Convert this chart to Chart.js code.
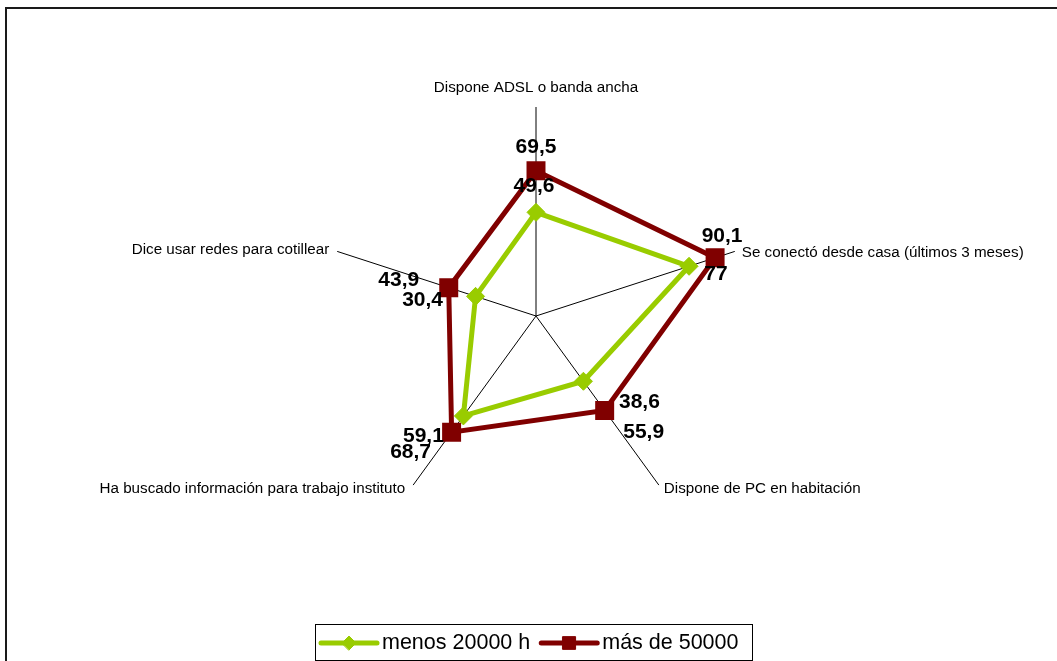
<!DOCTYPE html>
<html>
<head>
<meta charset="utf-8">
<script src="https://cdn.jsdelivr.net/npm/chart.js@4.4.1/dist/chart.umd.min.js"></script>
<style>
html, body { margin: 0; padding: 0; background: #fff; }
canvas { display: block; }
</style>
</head>
<body>
<canvas id="radarChart" width="1057" height="661"></canvas>
<script>
"use strict";

// datos
const categories = [
    'Dispone ADSL o banda ancha',
    'Se conectó desde casa (últimos 3 meses)',
    'Dispone de PC en habitación',
    'Ha buscado información para trabajo instituto',
    'Dice usar redes para cotillear'
];
const seriesNames = ['menos 20000 h', 'más de 50000'];
const menos20000 = [49.6, 77, 38.6, 59.1, 30.4];
const mas50000 = [69.5, 90.1, 55.9, 68.7, 43.9];
const scaleMin = 0;
const scaleMax = 100;

const FONT = '"Liberation Sans", Arial, sans-serif';

// posicion de las etiquetas de valor (desplazamiento desde el punto)
const valueLabelOffsets = [
    [[-2, -26], [27, 8], [56, 21], [-40, 20], [-53, 4]],
    [[0, -24], [7, -22], [39, 22], [-41, 20], [-50, -7]]
];

// posicion de las etiquetas de eje respecto al extremo del radio
const axisLabelPlacement = [
    { align: 'center', dx: 0, dy: -19 },
    { align: 'left', dx: 7, dy: 1 },
    { align: 'left', dx: 5, dy: 4 },
    { align: 'right', dx: -8, dy: 4 },
    { align: 'right', dx: -8, dy: -2 }
];

const fmt = (v) => String(v).replace('.', ',');

const framePlugin = {
    id: 'frame',
    beforeDraw(chart) {
        const ctx = chart.ctx;
        ctx.save();
        ctx.fillStyle = '#fff';
        ctx.fillRect(0, 0, chart.width, chart.height);
        ctx.fillStyle = '#1a1a1a';
        ctx.fillRect(5, 7, chart.width - 5, 2);
        ctx.fillRect(5, 7, 2, chart.height - 7);
        ctx.restore();
    }
};

const axisLabelsPlugin = {
    id: 'axisLabels',
    afterDraw(chart) {
        const ctx = chart.ctx;
        const scale = chart.scales.r;
        ctx.save();
        ctx.font = '15.2px ' + FONT;
        ctx.fillStyle = '#000';
        ctx.textBaseline = 'middle';
        categories.forEach((label, i) => {
            const p = scale.getPointPosition(i, scale.drawingArea);
            const pl = axisLabelPlacement[i];
            ctx.textAlign = pl.align;
            ctx.fillText(label, p.x + pl.dx, p.y + pl.dy);
        });
        ctx.restore();
    }
};

const valueLabelsPlugin = {
    id: 'valueLabels',
    afterDatasetsDraw(chart) {
        const ctx = chart.ctx;
        ctx.save();
        ctx.font = 'bold 21px ' + FONT;
        ctx.fillStyle = '#000';
        ctx.textAlign = 'center';
        ctx.textBaseline = 'middle';
        chart.data.datasets.forEach((ds, di) => {
            const meta = chart.getDatasetMeta(di);
            meta.data.forEach((pt, i) => {
                const off = valueLabelOffsets[di][i];
                ctx.fillText(fmt(ds.data[i]), pt.x + off[0], pt.y + off[1]);
            });
        });
        ctx.restore();
    }
};

const boxLegendPlugin = {
    id: 'boxLegend',
    afterDraw(chart) {
        const ctx = chart.ctx;
        const lineLen = 56, gapText = 5, gapItem = 11, padL = 6, padR = 14;
        const cx = 534, top = 624, h = 36, y = top + h / 2 + 1;
        ctx.save();
        ctx.font = '21.5px ' + FONT;
        const items = chart.data.datasets.map(ds => ({ ds, w: ctx.measureText(ds.label).width }));
        let total = padL + padR;
        items.forEach((it, i) => { total += lineLen + gapText + it.w + (i ? gapItem : 0); });
        const left = Math.round(cx - total / 2);
        ctx.strokeStyle = '#000';
        ctx.lineWidth = 1;
        ctx.strokeRect(left + 0.5, top + 0.5, Math.round(total), h);
        let x = left + padL;
        items.forEach((it, i) => {
            if (i) x += gapItem;
            const ds = it.ds;
            ctx.strokeStyle = ds.borderColor;
            ctx.lineWidth = 5;
            ctx.lineCap = 'round';
            ctx.beginPath();
            ctx.moveTo(x, y);
            ctx.lineTo(x + lineLen, y);
            ctx.stroke();
            ctx.fillStyle = ds.pointBackgroundColor;
            ctx.lineWidth = 1;
            Chart.helpers.drawPoint(ctx, {
                pointStyle: ds.pointStyle,
                radius: ds.pointStyle === 'rect' ? 9 : 7,
                rotation: 0,
                borderWidth: 1
            }, x + lineLen / 2, y);
            x += lineLen + gapText;
            ctx.fillStyle = '#000';
            ctx.textAlign = 'left';
            ctx.textBaseline = 'middle';
            ctx.fillText(ds.label, x, y);
            x += it.w;
        });
        ctx.restore();
    }
};

const ctx = document.getElementById('radarChart').getContext('2d');

new Chart(ctx, {
    type: 'radar',
    data: {
        labels: categories,
        datasets: [{
            label: seriesNames[0],
            data: menos20000,
            borderColor: '#99cc00',
            backgroundColor: '#99cc00',
            pointBackgroundColor: '#99cc00',
            pointBorderColor: '#99cc00',
            pointStyle: 'rectRot',
            pointRadius: 9,
            pointBorderWidth: 1,
            borderWidth: 5,
            fill: false,
            order: 1
        }, {
            label: seriesNames[1],
            data: mas50000,
            borderColor: '#800000',
            backgroundColor: '#800000',
            pointBackgroundColor: '#800000',
            pointBorderColor: '#800000',
            pointStyle: 'rect',
            pointRadius: 12,
            pointBorderWidth: 2,
            borderWidth: 5,
            fill: false,
            order: 0
        }]
    },
    options: {
        responsive: false,
        animation: false,
        events: [],
        layout: {
            padding: { left: 327, right: 312, top: 107, bottom: 136 }
        },
        plugins: {
            legend: { display: false },
            tooltip: { enabled: false }
        },
        scales: {
            r: {
                min: scaleMin,
                max: scaleMax,
                grid: { display: false },
                angleLines: { display: true, color: '#000', lineWidth: 1 },
                ticks: { display: false },
                pointLabels: { display: false }
            }
        }
    },
    plugins: [framePlugin, axisLabelsPlugin, valueLabelsPlugin, boxLegendPlugin]
});
</script>
</body>
</html>
